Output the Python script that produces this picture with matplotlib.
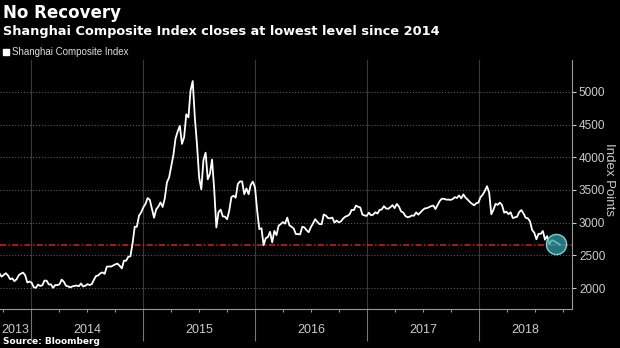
import pandas as pd
import matplotlib.pyplot as plt
import matplotlib.dates as mdates
from matplotlib.lines import Line2D
from matplotlib.ticker import FixedLocator

# weekly closes (Friday)
idx_2013 = [2225, 2175, 2200, 2228, 2193, 2135, 2149, 2106, 2135, 2197,
            2220, 2237, 2197, 2085, 2101]
idx_2014 = [2083, 2013, 2004, 2054, 2033, 2044, 2115, 2113, 2056, 2057,
            2004, 2047, 2046, 2058, 2130, 2097, 2036, 2026, 2011, 2026,
            2034, 2039, 2029, 2070, 2025, 2036, 2060, 2047, 2060, 2127,
            2185, 2194, 2226, 2240, 2217, 2327, 2331, 2329, 2347, 2364,
            2374, 2341, 2302, 2420, 2418, 2478, 2487, 2683, 2938, 2938,
            3108, 3157]
idx_2015 = [3235, 3286, 3376, 3351, 3210, 3076, 3204, 3247, 3310, 3241,
            3373, 3617, 3691, 3864, 4034, 4287, 4394, 4480, 4205, 4308,
            4657, 4611, 5023, 5166, 4600, 4192, 3687, 3510, 3958, 4070,
            3664, 3744, 3965, 3508, 2927, 3160, 3200, 3097, 3092, 3053,
            3183, 3391, 3412, 3383, 3590, 3632, 3630, 3436, 3524, 3435,
            3578, 3628]
idx_2016 = [3539, 3186, 2901, 2916, 2655, 2763, 2780, 2860, 2700, 2874,
            2810, 2955, 2979, 3009, 2985, 3078, 2960, 2938, 2913, 2827,
            2825, 2821, 2938, 2928, 2885, 2854, 2932, 2988, 3054, 3012,
            2979, 2976, 3125, 3108, 3070, 3067, 3078, 3002, 3033, 3005,
            3020, 3063, 3091, 3104, 3125, 3196, 3192, 3262, 3243, 3233,
            3123, 3110, 3104]
idx_2017 = [3154, 3113, 3123, 3159, 3140, 3196, 3202, 3253, 3218, 3212,
            3237, 3269, 3223, 3287, 3246, 3173, 3155, 3103, 3083, 3091,
            3111, 3106, 3158, 3123, 3158, 3192, 3218, 3222, 3238, 3253,
            3262, 3209, 3269, 3332, 3367, 3365, 3353, 3353, 3349, 3360,
            3391, 3378, 3417, 3372, 3433, 3383, 3353, 3317, 3289, 3266,
            3297, 3307]
idx_2018 = [3391, 3429, 3488, 3558, 3462, 3129, 3199, 3289, 3273, 3307,
            3269, 3153, 3169, 3131, 3159, 3071, 3082, 3091, 3163, 3193,
            3141, 3075, 3067, 3022, 2889, 2847, 2747, 2831, 2829, 2873,
            2740, 2795, 2669, 2729, 2725, 2702, 2682, 2660]

values = idx_2013 + idx_2014 + idx_2015 + idx_2016 + idx_2017 + idx_2018
dates = pd.date_range("2013-09-20", periods=len(values), freq="W-FRI")

support_level = 2655  # 2016 low
y_ticks = [2000, 2500, 3000, 3500, 4000, 4500, 5000]
years = ["2013", "2014", "2015", "2016", "2017", "2018"]

x_start = pd.Timestamp("2013-09-22")
x_end = pd.Timestamp("2018-10-30")

tick_font = ["Liberation Sans Narrow", "Liberation Sans", "DejaVu Sans"]

fig = plt.figure(figsize=(6.2, 3.48), dpi=100, facecolor="black")
ax = fig.add_axes([0, 0.112, 0.9226, 0.716], facecolor="black")

ax.plot(dates, values, color="white", lw=1.3, zorder=3)
ax.axhline(support_level, color="#d42020", lw=1.1,
           ls=(0, (4, 1.5, 1, 1.5)), zorder=2)

# highlight the latest close
ax.scatter(dates[-3], sum(values[-3:]) / 3, s=210, zorder=4,
           facecolor=(0.18, 0.62, 0.65, 0.75), edgecolor="#7fd0d2", lw=1.0)

ax.set_xlim(x_start, x_end)
ax.set_ylim(1680, 5490)

# y axis on the right
ax.yaxis.tick_right()
ax.set_yticks(y_ticks)
ax.set_yticklabels([str(v) for v in y_ticks], family=tick_font, fontsize=8.5)
ax.tick_params(axis="y", colors="#cccccc", length=3, width=0.8, pad=2)
ax.grid(axis="y", color="#5a5a5a", ls=":", lw=0.8)

# x axis: year separators, quarter ticks, centred year labels
year_starts = [pd.Timestamp(f"{y}-01-01") for y in years[1:]]
quarters = pd.date_range("2013-10-01", "2018-10-01", freq="QS")
ax.xaxis.set_major_locator(FixedLocator(mdates.date2num(year_starts)))
ax.xaxis.set_minor_locator(FixedLocator(mdates.date2num(quarters)))
ax.set_xticklabels([])
ax.tick_params(axis="x", which="major", length=23, width=0.8, color="#777777")
ax.tick_params(axis="x", which="minor", length=2.5, width=0.8, color="#999999")
ax.grid(axis="x", which="major", color="#3a3a3a", ls="-", lw=0.8)

bounds = [x_start] + year_starts + [x_end]
for i, label in enumerate(years):
    mid = bounds[i] + (bounds[i + 1] - bounds[i]) / 2
    ax.text(mid, -0.084, label, transform=ax.get_xaxis_transform(),
            ha="center", va="center", color="#cccccc", fontsize=9, family=tick_font)

for side in ["left", "top"]:
    ax.spines[side].set_visible(False)
for side in ["right", "bottom"]:
    ax.spines[side].set_color("#999999")
    ax.spines[side].set_linewidth(0.8)

fig.text(0.983, 0.483, "Index Points", rotation=270, ha="center", va="center",
         color="#cccccc", fontsize=9.5, family=tick_font)

fig.text(0.005, 1 - 12.5 / 348, "No Recovery", color="white", fontsize=12,
         weight="bold", va="center")
fig.text(0.005, 1 - 32 / 348, "Shanghai Composite Index closes at lowest level since 2014",
         color="white", fontsize=9.3, weight="bold", va="center")

handle = Line2D([], [], marker="s", color="white", ls="none", markersize=5)
fig.legend([handle], ["Shanghai Composite Index"], loc="center left",
           bbox_to_anchor=(0.0, 1 - 52 / 348), frameon=False,
           labelcolor="#dddddd", handlelength=0.8, handletextpad=0.2,
           borderaxespad=0, borderpad=0.2, prop={"family": "Liberation Sans", "size": 7})

fig.text(0.005, 1 - 342 / 348, "Source: Bloomberg", color="white", fontsize=6.5,
         weight="bold", va="center")

fig.savefig("out.png", dpi=100, facecolor="black")
